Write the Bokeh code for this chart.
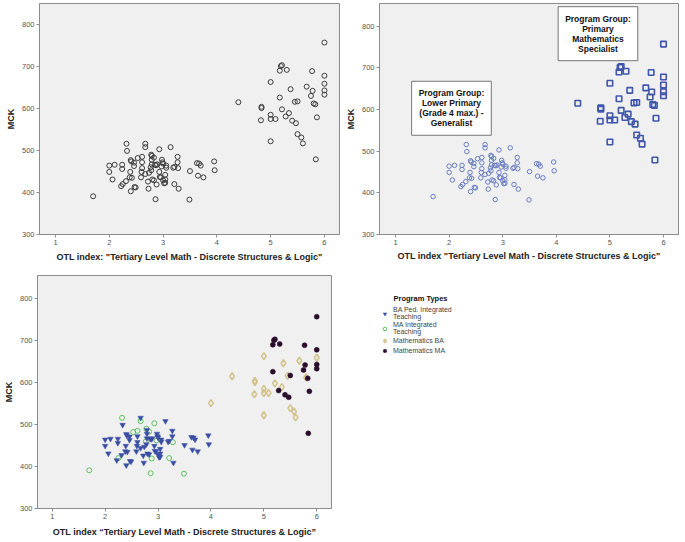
from bokeh.plotting import figure
from bokeh.layouts import column, row
from bokeh.models import FixedTicker, Label, Legend, LegendItem, Range1d
from bokeh.embed import file_html
from bokeh.resources import INLINE

# ---------------- data ----------------
PT_BA_PED = "BA Ped. Integrated\nTeaching"
PT_MA_INT = "MA Integrated\nTeaching"
PT_MATH_BA = "Mathematics BA"
PT_MATH_MA = "Mathematics MA"

# lower cluster (Program Group: Lower Primary)
lower_otl = [1.70, 2.00, 2.00, 2.10, 2.06, 2.24, 2.24, 2.22, 2.25, 2.31,
             2.32, 2.33, 2.39, 2.40, 2.41, 2.38, 2.42, 2.40, 2.46, 2.46,
             2.47, 2.49, 2.53, 2.59, 2.61, 2.61, 2.61, 2.60, 2.67, 2.67,
             2.67, 2.72, 2.73, 2.74, 2.77, 2.78, 2.79, 2.79, 2.79, 2.78,
             2.83, 2.85, 2.87, 2.89, 2.86, 2.88, 2.80, 2.93, 2.93, 2.94,
             2.96, 2.98, 2.99, 3.00, 2.97, 3.00, 3.02, 3.04, 3.04, 3.04,
             3.06, 3.06, 3.14, 3.19, 3.21, 3.21, 3.27, 3.27, 3.28, 3.29,
             3.50, 3.49, 3.63, 3.67, 3.65, 3.70, 3.75, 3.95, 3.96, 2.83]
lower_mck = [391, 464, 449, 466, 431, 466, 456, 415, 420, 427,
             516, 499, 449, 477, 474, 436, 435, 403, 471, 463,
             413, 412, 482, 436, 485, 472, 458, 449, 516, 508,
             444, 426, 409, 447, 460, 490, 487, 478, 467, 453,
             483, 466, 465, 467, 384, 419, 431, 503, 449, 437,
             436, 478, 472, 469, 462, 429, 422, 442, 423, 431,
             464, 459, 508, 459, 461, 420, 485, 472, 458, 409,
             451, 383, 470, 469, 440, 464, 436, 474, 453, 429]
# B = BA Ped. Integrated Teaching, M = MA Integrated Teaching
lower_prog = ["M", "B", "B", "B", "B", "B", "B", "B", "M", "B",
              "M", "B", "B", "B", "B", "B", "B", "B", "B", "B",
              "B", "B", "M", "B", "M", "B", "B", "B", "B", "M",
              "B", "B", "B", "B", "M", "M", "B", "B", "B", "B",
              "M", "B", "B", "B", "M", "M", "B", "M", "B", "B",
              "B", "B", "B", "B", "M", "B", "B", "B", "B", "B",
              "B", "B", "B", "B", "B", "M", "B", "B", "M", "B",
              "B", "M", "B", "B", "B", "B", "B", "B", "B", "B"]

# upper cluster (Program Group: Primary Mathematics Specialist)
upper_otl = [4.40, 4.83, 4.83, 4.82, 5.00, 5.00, 5.00, 5.09, 5.00, 5.21,
             5.34, 5.37, 5.45, 5.50, 5.57, 5.60, 5.67, 5.80, 6.00,
             5.17, 5.19, 5.21, 5.30, 5.17, 5.28, 5.40, 5.47, 5.50, 5.77,
             5.78, 5.75, 5.83, 5.86, 5.84, 6.00, 6.00, 6.00, 6.00]
upper_mck = [615, 604, 601, 572, 663, 585, 575, 575, 522, 598,
             589, 646, 616, 539, 531, 517, 652, 612, 659,
             690, 701, 703, 692, 626, 581, 571, 565, 617, 689,
             642, 630, 610, 579, 479, 757, 678, 643, 633]
# T = Mathematics BA, D = Mathematics MA
upper_prog = ["T"] * 19 + ["D"] * 19

# point shown only in the bottom chart (Mathematics BA)
bottom_only_otl = [4.00]
bottom_only_mck = [551]

x_ticks = [1, 2, 3, 4, 5, 6]
y_ticks = [300, 400, 500, 600, 700, 800]

FONT = "Liberation Sans"


def style(p, xlabel, xstand):
    p.background_fill_color = "#F0F0F0"
    p.border_fill_color = "white"
    p.outline_line_color = "#8C8C8C"
    p.outline_line_width = 1
    p.xgrid.visible = False
    p.ygrid.visible = False
    for ax in (p.xaxis[0], p.yaxis[0]):
        ax.axis_line_color = "#8C8C8C"
        ax.major_tick_line_color = "#8C8C8C"
        ax.major_tick_out = 3
        ax.major_tick_in = 0
        ax.minor_tick_line_color = None
        ax.major_label_text_font = FONT
        ax.major_label_text_font_size = "7.5px"
        ax.major_label_text_color = "#555555"
        ax.major_label_standoff = 2
        ax.axis_label_text_font = FONT
        ax.axis_label_text_font_size = "9px"
        ax.axis_label_text_font_style = "bold"
        ax.axis_label_text_color = "#222222"
        ax.axis_label_standoff = 3
    p.xaxis[0].axis_label_standoff = xstand
    p.xaxis[0].ticker = FixedTicker(ticks=x_ticks)
    p.yaxis[0].ticker = FixedTicker(ticks=y_ticks)
    p.xaxis[0].axis_label = xlabel
    p.yaxis[0].axis_label = "MCK"


all_otl = lower_otl + upper_otl
all_mck = lower_mck + upper_mck

# ---------------- top-left ----------------
p1 = figure(width=340, height=270, output_backend="svg", toolbar_location=None,
            x_range=Range1d(0.703, 6.28), y_range=Range1d(300, 850),
            min_border_left=39, min_border_right=1, min_border_top=2, min_border_bottom=36)
style(p1, 'OTL index: "Tertiary Level Math - Discrete Structures & Logic"', 4)
p1.scatter(all_otl, all_mck, marker="circle", size=5, fill_color=None,
           line_color="#3C3C3C", line_width=1)

# ---------------- top-right ----------------
p2 = figure(width=345, height=270, output_backend="svg", toolbar_location=None,
            x_range=Range1d(0.70, 6.28), y_range=Range1d(300, 854.5),
            min_border_left=39, min_border_right=7, min_border_top=3, min_border_bottom=33)
style(p2, 'OTL index "Tertiary Level Math - Discrete Structures & Logic"', 3)
p2.scatter(lower_otl, lower_mck, marker="circle", size=4.5, fill_color=None,
           line_color="#6A7DC2", line_width=1)
p2.scatter(upper_otl, upper_mck, marker="square", size=5.5, fill_color=None,
           line_color="#3F57A8", line_width=1.6)
for txt, lx, ly in [("Program Group:\nPrimary\nMathematics\nSpecialist", 4.777, 782),
                    ("Program Group:\nLower Primary\n(Grade 4 max.) -\nGeneralist", 2.043, 603)]:
    p2.add_layout(Label(x=lx, y=ly, text=txt, text_align="center", text_baseline="middle",
                        text_font=FONT, text_font_size="8.5px", text_font_style="bold",
                        text_color="#111111", text_line_height=1.0,
                        background_fill_color="white", border_line_color="#777777",
                        border_line_width=1, padding=7))

# ---------------- bottom ----------------
p3 = figure(width=340, height=272, output_backend="svg", toolbar_location=None,
            x_range=Range1d(0.721, 6.279), y_range=Range1d(300, 855),
            min_border_left=32, min_border_right=9, min_border_top=5, min_border_bottom=34)
style(p3, "OTL index \u201cTertiary Level Math - Discrete Structures & Logic\u201d", 5)

b_x = [x for x, g in zip(lower_otl, lower_prog) if g == "B"]
b_y = [y for y, g in zip(lower_mck, lower_prog) if g == "B"]
m_x = [x for x, g in zip(lower_otl, lower_prog) if g == "M"]
m_y = [y for y, g in zip(lower_mck, lower_prog) if g == "M"]
t_x = [x for x, g in zip(upper_otl, upper_prog) if g == "T"] + bottom_only_otl
t_y = [y for y, g in zip(upper_mck, upper_prog) if g == "T"] + bottom_only_mck
d_x = [x for x, g in zip(upper_otl, upper_prog) if g == "D"]
d_y = [y for y, g in zip(upper_mck, upper_prog) if g == "D"]

STY_B = dict(marker="inverted_triangle", size=5.5, fill_color="#3A4FA3", line_color="#3A4FA3", line_width=0.5)
STY_M = dict(marker="circle", size=5, fill_color=None, line_color="#5CC25C", line_width=1)
STY_T = dict(marker="diamond", size=7, fill_color=None, line_color="#D3C48E", line_width=1.6)
STY_D = dict(marker="circle", size=5, fill_color="#2A0C2C", line_color="#2A0C2C", line_width=0.5)

p3.scatter(t_x, t_y, **STY_T)
p3.scatter(m_x, m_y, **STY_M)
p3.scatter(b_x, b_y, **STY_B)
p3.scatter(d_x, d_y, **STY_D)

# ---------------- legend panel (series keys; their ranges keep the marks out of view) ----------------
p4 = figure(width=345, height=272, output_backend="svg", toolbar_location=None,
            x_axis_type=None, y_axis_type=None, x_range=Range1d(-20, -19), y_range=Range1d(0, 1),
            min_border_left=0, min_border_right=0, min_border_top=0, min_border_bottom=0)
p4.outline_line_color = None
p4.xgrid.visible = False
p4.ygrid.visible = False
p4.background_fill_color = "white"
lb = p4.scatter(b_x[:1], b_y[:1], **STY_B)
lm = p4.scatter(m_x[:1], m_y[:1], **STY_M)
lt = p4.scatter(t_x[:1], t_y[:1], **STY_T)
ld = p4.scatter(d_x[:1], d_y[:1], **STY_D)

legend = Legend(items=[LegendItem(label=PT_BA_PED, renderers=[lb]),
                       LegendItem(label=PT_MA_INT, renderers=[lm]),
                       LegendItem(label=PT_MATH_BA, renderers=[lt]),
                       LegendItem(label=PT_MATH_MA, renderers=[ld])],
                location=(40, 153),
                label_text_font=FONT, label_text_font_size="7px",
                label_text_color="#444444", label_text_line_height=1.0,
                glyph_width=9, glyph_height=9, label_height=8, spacing=1,
                padding=2, margin=0, label_standoff=4,
                border_line_color=None, background_fill_alpha=0)
p4.add_layout(legend, "center")
p4.add_layout(Label(x=53, y=210, x_units="screen", y_units="screen", text="Program Types",
                    text_font=FONT, text_font_size="7.5px", text_font_style="bold",
                    text_color="#111111", text_baseline="middle", text_align="left"))

layout = column(row(p1, p2), row(p3, p4))
open("out.html", "w").write(file_html(layout, INLINE))
